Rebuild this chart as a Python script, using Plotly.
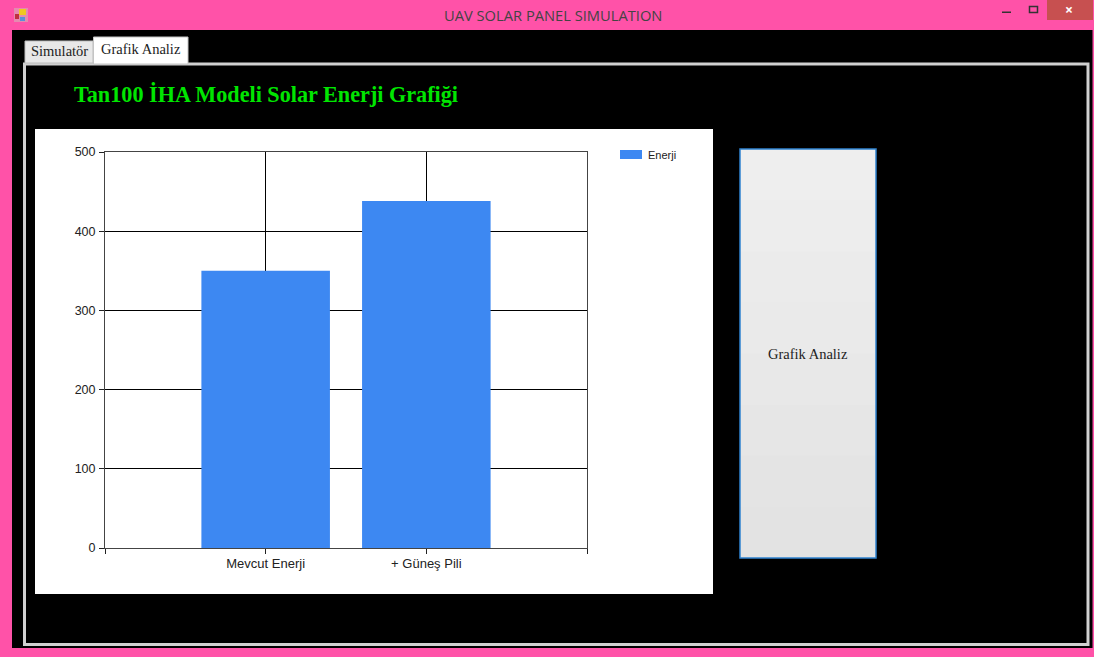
import plotly.graph_objects as go

W, H = 1094, 657
categories = ["Mevcut Enerji", "+ Güneş Pili"]
energy = [350, 438]
series_name = "Enerji"
y_ticks = [0, 100, 200, 300, 400, 500]
window_title = "UAV SOLAR PANEL SIMULATION"
chart_title = "Tan100 İHA Modeli Solar Enerji Grafiği"
tab_labels = ["Simulatör", "Grafik Analiz"]
button_label = "Grafik Analiz"

BAR = "#3d88f2"
INK = "#222222"
SANS = "Liberation Sans"
SERIF = "Liberation Serif"


def fx(x):
    return x / W


def fy(y):
    return 1 - y / H


shapes = []
annotations = []


def rect(x0, y0, x1, y1, fill, line=None, lw=1):
    shapes.append(dict(type="rect", xref="paper", yref="paper", layer="below",
                       x0=fx(x0), x1=fx(x1), y0=fy(y0), y1=fy(y1), fillcolor=fill,
                       line=dict(color=line, width=lw) if line else dict(width=0)))


def text(x, y, s, size, color, font=SANS, anchor="center", bold=False):
    annotations.append(dict(xref="paper", yref="paper", x=fx(x), y=fy(y), text=f"<b>{s}</b>" if bold else s,
                            showarrow=False, xanchor=anchor, yanchor="middle",
                            font=dict(family=font, size=size, color=color)))


# window
rect(12, 30, 1092, 648, "#000000")
rect(1092, 30, 1093, 648, "#7a2a55")
rect(1047, 0, 1093, 20, "#c75050")
text(552.5, 15, window_title, 14.7, "#444444", "Open Sans")
rect(1002, 11.5, 1011, 13, "#333333")
rect(1029.5, 6.5, 1037.5, 12.5, "rgba(0,0,0,0)", "#333333", 1.5)
text(1069, 9.5, "×", 14, "#ffffff", "Open Sans", bold=True)

# icon
rect(14, 8, 28, 22, "#e58ab0")
rect(19, 9, 26, 15, "#f0c820")
rect(15, 14, 19, 19, "#c03040")
rect(20, 17, 25, 21, "#5a90d8")

# tabs + frame
rect(24.5, 64, 1088, 644.5, "#000000", "#d0d0d0", 3)
rect(25, 41, 93, 63, "#e8e8e8", "#bdbdbd", 1)
rect(93.5, 37, 188, 64, "#ffffff", "#c4c4c4", 1)
text(59.5, 51, tab_labels[0], 14.5, INK, SERIF)
text(140.5, 49, tab_labels[1], 14.5, INK, SERIF)
text(71.5, 94, chart_title, 22.2, "#00e600", SERIF, "left", True)

# chart panel
rect(35, 129, 713, 594, "#ffffff")

# legend
rect(620, 150, 642, 159, BAR)
text(646, 155, series_name, 11, INK, SANS, "left")

# button (stepped vertical gradient)
button_steps = ["#eeeeee", "#ededed", "#ebebeb", "#eaeaea", "#e8e8e8", "#e6e6e6", "#e4e4e4", "#e3e3e3"]
for i, c in enumerate(button_steps):
    rect(740, 149 + i * 409 / 8, 876, 558, c)
rect(740, 149, 876, 558, "rgba(0,0,0,0)", "#2f83cf", 1.5)
text(808, 354, button_label, 14.5, INK, SERIF)

positions = list(range(len(categories)))

fig = go.Figure(go.Bar(x=positions, y=energy, width=0.8, name=series_name,
                       marker=dict(color=BAR, line=dict(width=0)), showlegend=False))

fig.update_layout(
    width=W, height=H, autosize=False,
    margin=dict(l=0, r=0, t=0, b=0, pad=0, autoexpand=False),
    paper_bgcolor="#ff52a8", plot_bgcolor="rgba(0,0,0,0)",
    shapes=shapes, annotations=annotations, showlegend=False, bargap=0.2,
    xaxis=dict(domain=[fx(105), fx(587)], range=[-1, 2], automargin=False,
               tickmode="array", tickvals=[-1] + positions + [2], ticktext=[""] + categories + [""],
               ticks="outside", ticklen=5, tickcolor="#222222", tickwidth=1, ticklabelstandoff=-2,
               showgrid=True, gridcolor="#000000", gridwidth=1, zeroline=False,
               showline=True, linecolor="#444444", linewidth=1, mirror=True,
               tickfont=dict(family=SANS, size=13, color=INK), fixedrange=True),
    yaxis=dict(domain=[fy(548), fy(152)], range=[0, 500], automargin=False,
               tickmode="array", tickvals=y_ticks,
               ticks="outside", ticklen=5, tickcolor="#222222", tickwidth=1, ticklabelstandoff=1,
               showgrid=True, gridcolor="#000000", gridwidth=1, zeroline=False,
               showline=True, linecolor="#444444", linewidth=1, mirror=True,
               tickfont=dict(family=SANS, size=12.5, color=INK), fixedrange=True),
)

fig.write_html("out.html", config=dict(displayModeBar=False),
               post_script="document.body.style.margin='0';document.body.style.overflow='hidden';")
